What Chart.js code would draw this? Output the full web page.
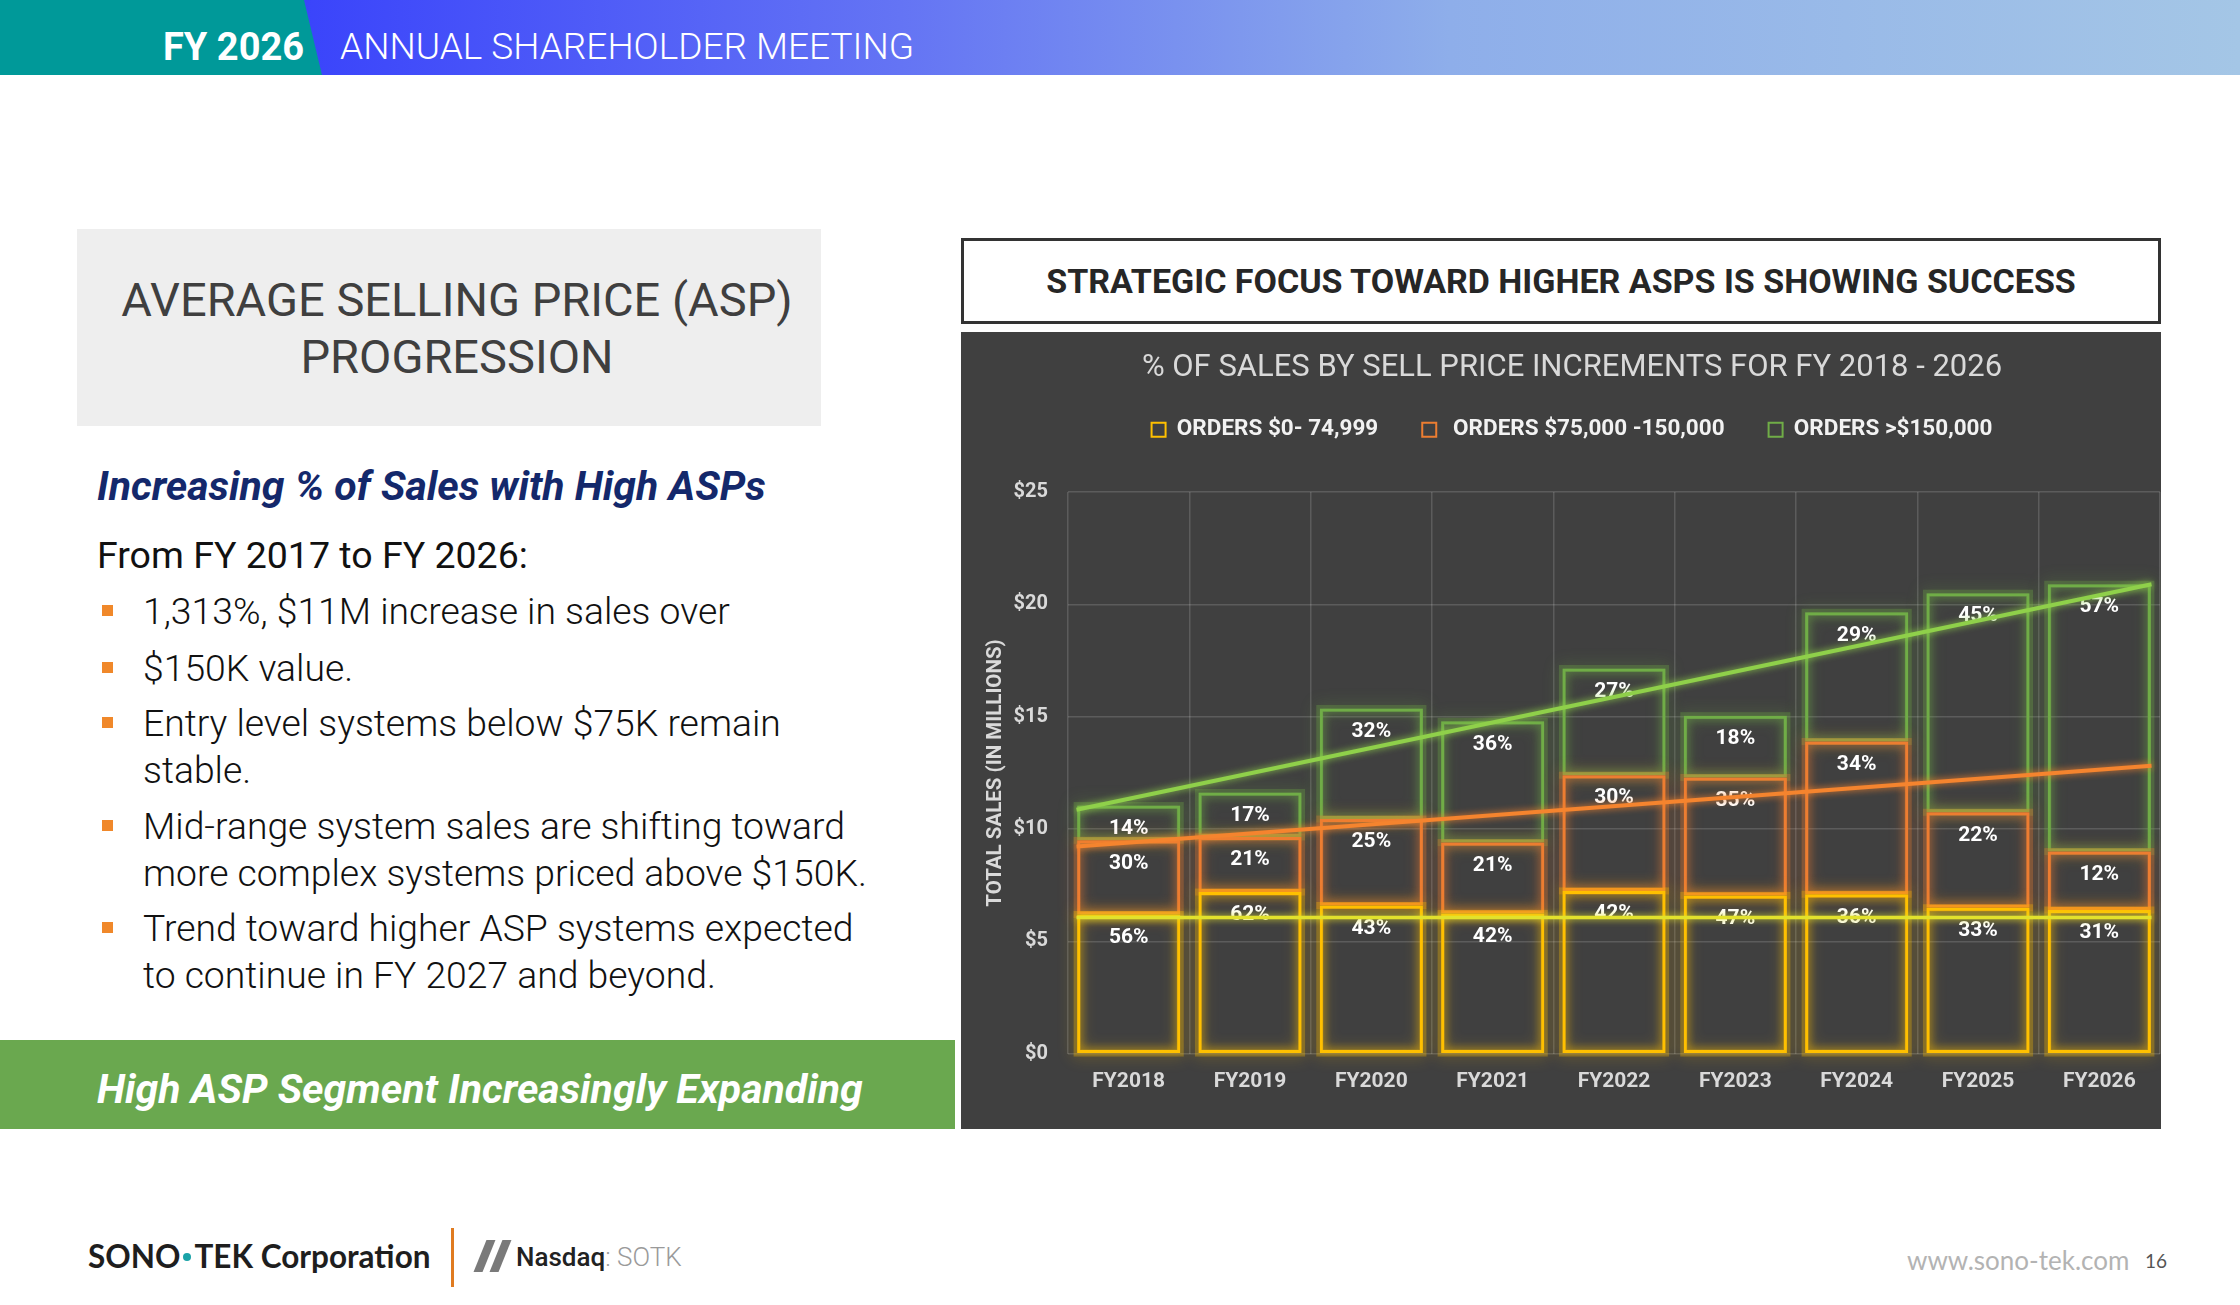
<!DOCTYPE html>
<html>
<head>
<meta charset="utf-8">
<script src="https://cdn.jsdelivr.net/npm/chart.js@4.4.1/dist/chart.umd.min.js"></script>
<style>
    html, body {
        margin: 0;
        padding: 0;
        background: #ffffff;
    }

    body {
        width: 2240px;
        height: 1305px;
        position: relative;
        overflow: hidden;
        font-family: Roboto, "Open Sans", sans-serif;
    }

    .abs {
        position: absolute;
        white-space: nowrap;
    }

    .header-band {
        left: 0;
        top: 0;
        width: 2240px;
        height: 75px;
        background: linear-gradient(90deg, #3034ff 0px, #3a44fb 300px, #6474f4 900px, #8eaeea 1450px, #a4c6e6 2240px);
    }

    .header-teal {
        left: 0;
        top: 0;
        width: 330px;
        height: 75px;
        background: #009999;
        clip-path: polygon(0 0, 304px 0, 322px 75px, 0 75px);
    }

    .fy {
        left: 163px;
        top: 24px;
        font-size: 38px;
        font-weight: 700;
        color: #ffffff;
        line-height: 46px;
    }

    .meeting {
        left: 340px;
        top: 24px;
        font-size: 37px;
        font-weight: 300;
        color: #ffffff;
        line-height: 46px;
    }

    .asp-box {
        left: 77px;
        top: 229px;
        width: 744px;
        height: 197px;
        box-sizing: border-box;
        padding-left: 16px;
        background: #eeeeee;
        display: flex;
        align-items: center;
        justify-content: center;
        text-align: center;
        font-size: 47px;
        line-height: 57px;
        color: #3f3f3f;
        white-space: normal;
    }

    .subhead {
        left: 97px;
        top: 462px;
        font-size: 41px;
        font-weight: 700;
        font-style: italic;
        color: #14286b;
        line-height: 48px;
    }

    .from {
        left: 97px;
        top: 532px;
        font-size: 37.5px;
        color: #111111;
        line-height: 46px;
    }

    .bullet {
        left: 143px;
        font-size: 37.3px;
        font-weight: 300;
        color: #111111;
        line-height: 47px;
    }

    .marker {
        position: absolute;
        width: 11px;
        height: 11px;
        background: #f0882a;
    }

    .green-band {
        left: 0;
        top: 1040px;
        width: 955px;
        height: 89px;
        background: #6aa84f;
    }

    .green-text {
        left: 97px;
        top: 1066px;
        font-size: 41px;
        font-weight: 700;
        font-style: italic;
        color: #ffffff;
        line-height: 46px;
    }

    .title-box {
        left: 961px;
        top: 238px;
        width: 1200px;
        height: 86px;
        box-sizing: border-box;
        border: 3px solid #333333;
        display: flex;
        align-items: center;
        justify-content: center;
        font-size: 34px;
        font-weight: 700;
        color: #262626;
    }

    .chart-wrap {
        left: 961px;
        top: 332px;
        width: 1200px;
        height: 797px;
        background: #404040;
    }

    .logo {
        left: 88px;
        top: 1237px;
        font-family: Lato, "Noto Sans", sans-serif;
        font-size: 31.5px;
        font-weight: 700;
        color: #1e1e1e;
        line-height: 38px;
    }

    .logo .dot {
        display: inline-block;
        width: 8px;
        height: 8px;
        border-radius: 50%;
        background: #1aa3a8;
        margin: 0 3px 6px 3px;
        vertical-align: middle;
    }

    .divider {
        left: 451px;
        top: 1228px;
        width: 3px;
        height: 59px;
        background: #e07b20;
    }

    .nq-bar {
        top: 1240px;
        width: 9px;
        height: 32px;
        background: #7a7a7a;
        transform: skewX(-22deg);
    }

    .nasdaq {
        left: 516px;
        top: 1240px;
        font-size: 26px;
        font-weight: 500;
        color: #222222;
        line-height: 34px;
    }

    .nasdaq span {
        color: #9a9a9a;
        font-weight: 300;
    }

    .site {
        left: 1907px;
        top: 1244px;
        font-family: Lato, "Open Sans", sans-serif;
        font-size: 26px;
        color: #b3b3b3;
        line-height: 32px;
    }

    .page {
        left: 2145px;
        top: 1248px;
        font-family: Lato, "Open Sans", sans-serif;
        font-size: 19px;
        color: #555555;
        line-height: 26px;
    }
</style>
</head>
<body>

<div class="abs header-band"></div>
<div class="abs header-teal"></div>
<div class="abs fy">FY 2026</div>
<div class="abs meeting">ANNUAL SHAREHOLDER MEETING</div>

<div class="abs asp-box">
    <div>AVERAGE SELLING PRICE (ASP)<br>PROGRESSION</div>
</div>

<div class="abs subhead">Increasing % of Sales with High ASPs</div>
<div class="abs from">From FY 2017 to FY 2026:</div>

<div class="marker" style="left:102px; top:605px;"></div>
<div class="abs bullet" style="top:588px;">1,313%, $11M increase in sales over</div>

<div class="marker" style="left:102px; top:662px;"></div>
<div class="abs bullet" style="top:645px;">$150K value.</div>

<div class="marker" style="left:102px; top:717px;"></div>
<div class="abs bullet" style="top:700px;">Entry level systems below $75K remain<br>stable.</div>

<div class="marker" style="left:102px; top:820px;"></div>
<div class="abs bullet" style="top:803px;">Mid-range system sales are shifting toward<br>more complex systems priced above $150K.</div>

<div class="marker" style="left:102px; top:922px;"></div>
<div class="abs bullet" style="top:905px;">Trend toward higher ASP systems expected<br>to continue in FY 2027 and beyond.</div>

<div class="abs green-band"></div>
<div class="abs green-text">High ASP Segment Increasingly Expanding</div>

<div class="abs title-box">STRATEGIC FOCUS TOWARD HIGHER ASPS IS SHOWING SUCCESS</div>

<div class="abs chart-wrap">
    <canvas id="asp-chart" width="1200" height="797"></canvas>
</div>

<div class="abs logo">SONO<span class="dot"></span>TEK Corporation</div>
<div class="abs divider"></div>
<div class="abs nq-bar" style="left:480px;"></div>
<div class="abs nq-bar" style="left:496px;"></div>
<div class="abs nasdaq">Nasdaq<span>: SOTK</span></div>
<div class="abs site">www.sono-tek.com</div>
<div class="abs page">16</div>

<script>
    // values in $ millions
    const years = ['FY2018', 'FY2019', 'FY2020', 'FY2021', 'FY2022', 'FY2023', 'FY2024', 'FY2025', 'FY2026'];
    const lowOrders = [6.2, 7.2, 6.6, 6.25, 7.25, 7.05, 7.1, 6.5, 6.4];
    const midOrders = [3.3, 2.45, 3.85, 3.15, 5.15, 5.25, 6.8, 4.25, 2.6];
    const highOrders = [1.55, 1.98, 4.92, 5.4, 4.75, 2.75, 5.75, 9.75, 11.9];

    const lowPct = ['56%', '62%', '43%', '42%', '42%', '47%', '36%', '33%', '31%'];
    const midPct = ['30%', '21%', '25%', '21%', '30%', '35%', '34%', '22%', '12%'];
    const highPct = ['14%', '17%', '32%', '36%', '27%', '18%', '29%', '45%', '57%'];

    const seriesNames = ['ORDERS $0- 74,999', ' ORDERS $75,000 -150,000', 'ORDERS >$150,000'];

    // trend lines run from the first bar's left edge to the last bar's right edge
    const trendX = [-0.43, 8.43];
    const lowTrend = [6.07, 6.07];
    const midTrend = [9.23, 12.82];
    const highTrend = [10.86, 20.9];

    const yMax = 25;
    const yStep = 5;

    Chart.defaults.font.family = 'Roboto';

    const glowPlugin = {
        id: 'glow',
        beforeDatasetDraw(chart, args) {
            const ds = chart.data.datasets[args.index];
            const ctx = chart.ctx;
            ctx.save();
            ctx.shadowColor = ds.glowColor;
            if (ds.type === 'bar') {
                ctx.shadowBlur = 16;
                ctx.strokeStyle = ds.haloColor;
                ctx.lineWidth = 7;
                args.meta.data.forEach(bar => {
                    const p = bar.getProps(['x', 'y', 'base', 'width'], true);
                    ctx.strokeRect(p.x - p.width / 2, p.y, p.width, p.base - p.y);
                });
                ctx.shadowBlur = 8;
            } else {
                ctx.shadowBlur = 7;
            }
        },
        afterDatasetDraw(chart, args) {
            const ctx = chart.ctx;
            ctx.restore();
            const ds = chart.data.datasets[args.index];
            if (ds.type !== 'bar') {
                return;
            }
            ctx.save();
            ctx.fillStyle = '#ffffff';
            ctx.font = 'bold 21px Roboto';
            ctx.textAlign = 'center';
            ctx.textBaseline = 'middle';
            args.meta.data.forEach((bar, i) => {
                const p = bar.getProps(['x', 'y'], true);
                ctx.fillText(ds.pctLabels[i], p.x, p.y + 23);
            });
            ctx.restore();
        }
    };

    const legendSpacer = {
        id: 'legendSpacer',
        beforeInit(chart) {
            if (!chart.legend) {
                return;
            }
            const fit = chart.legend.fit;
            chart.legend.fit = function () {
                fit.call(this);
                this.height += 41;
            };
        }
    };

    const makeBar = (label, data, color, halo, pct) => ({
        type: 'bar',
        label: label,
        data: data,
        backgroundColor: 'rgba(0,0,0,0)',
        borderColor: color,
        borderWidth: 3,
        borderSkipped: false,
        grouped: false,
        glowColor: color,
        haloColor: halo,
        pctLabels: pct,
        stack: 'sales',
        order: 1
    });

    const makeTrend = (label, ys, color, width) => ({
        type: 'line',
        label: label,
        data: trendX.map((x, i) => ({x: x, y: ys[i]})),
        xAxisID: 'x2',
        borderColor: color,
        borderWidth: width,
        glowColor: color,
        pointRadius: 0,
        fill: false,
        stack: label,
        order: 0
    });

    const ctx = document.getElementById('asp-chart').getContext('2d');
    new Chart(ctx, {
        type: 'bar',
        data: {
            labels: years,
            datasets: [
                makeBar(seriesNames[0], lowOrders, '#ffc000', 'rgba(255,192,0,0.3)', lowPct),
                makeBar(seriesNames[1], midOrders, '#ed7d31', 'rgba(237,125,49,0.3)', midPct),
                makeBar(seriesNames[2], highOrders, '#70ad47', 'rgba(112,173,71,0.3)', highPct),
                makeTrend('trendLow', lowTrend, '#e2e22c', 3.5),
                makeTrend('trendMid', midTrend, '#f5842e', 4),
                makeTrend('trendHigh', highTrend, '#8fd04a', 4)
            ]
        },
        options: {
            responsive: false,
            animation: false,
            devicePixelRatio: 1,
            layout: {
                padding: {left: 23, right: 1, top: 0, bottom: 20}
            },
            datasets: {
                bar: {
                    barPercentage: 1,
                    categoryPercentage: 0.85
                }
            },
            scales: {
                x: {
                    type: 'category',
                    stacked: true,
                    offset: true,
                    grid: {
                        offset: true,
                        color: 'rgba(255,255,255,0.15)',
                        lineWidth: 1.5,
                        drawTicks: false
                    },
                    border: {display: false},
                    ticks: {
                        color: '#d9d9d9',
                        padding: 15,
                        font: {size: 21, weight: 'bold'}
                    }
                },
                x2: {
                    type: 'linear',
                    display: false,
                    offset: false,
                    bounds: 'data',
                    min: -0.5,
                    max: 8.5,
                    ticks: {stepSize: 0.5}
                },
                y: {
                    stacked: true,
                    min: 0,
                    max: yMax,
                    grid: {
                        color: 'rgba(255,255,255,0.15)',
                        lineWidth: 1.5,
                        drawTicks: false
                    },
                    border: {display: false},
                    ticks: {
                        stepSize: yStep,
                        color: '#d9d9d9',
                        padding: 20,
                        font: {size: 20, weight: 'bold'},
                        callback: value => '$' + value
                    },
                    title: {
                        display: true,
                        text: 'TOTAL SALES (IN MILLIONS)',
                        color: '#d9d9d9',
                        font: {size: 20.5, weight: 'bold'},
                        padding: {top: 0, bottom: -15}
                    }
                }
            },
            plugins: {
                title: {
                    display: true,
                    text: '% OF SALES BY SELL PRICE INCREMENTS FOR FY 2018 - 2026',
                    color: '#d9d9d9',
                    font: {size: 31, weight: 'normal', lineHeight: 0.6},
                    padding: {top: 27, bottom: -3}
                },
                legend: {
                    labels: {
                        color: '#f2f2f2',
                        boxWidth: 14,
                        boxHeight: 14,
                        padding: 44,
                        font: {size: 22.5, weight: 'bold'},
                        generateLabels(chart) {
                            const base = Chart.defaults.plugins.legend.labels.generateLabels(chart);
                            return base
                                .filter(item => chart.data.datasets[item.datasetIndex].type === 'bar')
                                .map(item => Object.assign(item, {lineWidth: 2}));
                        }
                    }
                },
                tooltip: {enabled: false}
            }
        },
        plugins: [glowPlugin, legendSpacer]
    });
</script>
</body>
</html>
